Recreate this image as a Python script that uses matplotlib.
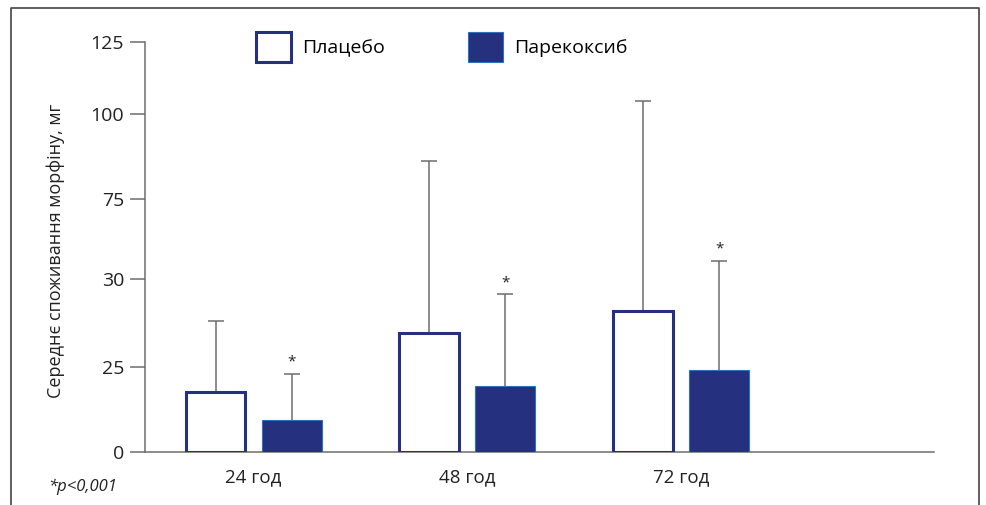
import matplotlib
matplotlib.use("Agg")
import matplotlib.pyplot as plt
from matplotlib.lines import Line2D
from matplotlib.patches import Patch
import numpy as np

plt.rcParams["font.family"] = ["Open Sans", "DejaVu Sans"]
plt.rcParams["font.weight"] = "medium"

# data
groups = ["24 год", "48 год", "72 год"]
placebo = [17.7, 35.1, 41.6]
placebo_err = [21.0, 51.0, 62.3]
parecoxib = [9.4, 19.6, 24.4]
parecoxib_err = [13.7, 27.1, 32.2]
series_names = ["Плацебо", "Парекоксиб"]
# the original axis is printed with "30" where 50 would be, and not quite evenly spaced
ytick_pos = [0, 25.1, 51.2, 74.9, 100, 121.3]
ytick_labels = ["0", "25", "30", "75", "100", "125"]
footnote = "*p<0,001"
ylabel = "Середнє споживання морфіну, мг"

navy = "#25307f"
edge_light = "#2a72c0"
grey = "#6e6e6e"
ink = "#222222"

fig = plt.figure(figsize=(9.87, 5.05), dpi=100)
ax = fig.add_axes([145 / 987, 53 / 505, 789 / 987, 410 / 505])

x = np.arange(len(groups))
off, w = 0.178, 0.28
ax.bar(x - off, placebo, w, facecolor="white", edgecolor=navy, linewidth=2.2, zorder=3)
ax.bar(x + off, parecoxib, w, facecolor=navy, edgecolor=edge_light, linewidth=0.8, zorder=3)
for pos, vals, errs in [(x - off, placebo, placebo_err), (x + off, parecoxib, parecoxib_err)]:
    _, caps, _ = ax.errorbar(pos, vals, yerr=[np.zeros(3), errs], fmt="none",
                             ecolor=grey, elinewidth=1.1, capsize=5.8, capthick=1.1, zorder=2)
    caps[0].set_visible(False)  # only the upper whisker has a cap
for xi, v, e in zip(x + off, parecoxib, parecoxib_err):
    ax.annotate("*", (xi, v + e), xytext=(0, 3), textcoords="offset points",
                ha="center", va="bottom", fontsize=11, color=ink)

ax.set_xlim(-0.508, 3.183)
ax.set_ylim(0, 121.3)
ax.set_yticks(ytick_pos, ytick_labels, fontsize=14, color=ink)
ax.set_xticks(x, groups, fontsize=13.5, color=ink)
ax.tick_params(axis="y", length=11, width=1.1, color=grey, pad=4)
ax.tick_params(axis="x", length=0, pad=12)
for s in ["top", "right"]:
    ax.spines[s].set_visible(False)
for s in ["left", "bottom"]:
    ax.spines[s].set_color(grey)
    ax.spines[s].set_linewidth(1.1)

ax.set_ylabel(ylabel, fontsize=13, color=ink)
ax.yaxis.set_label_coords(-0.101, 0.49)

handles = [Patch(facecolor="white", edgecolor=navy, linewidth=2.2),
           Patch(facecolor=navy, edgecolor=edge_light, linewidth=0.8)]
fig.legend(handles, series_names, loc="upper left", bbox_to_anchor=(256 / 987, 1 - 32 / 505),
           ncol=2, frameon=False, fontsize=14, handlelength=1.8, handleheight=2.0,
           handletextpad=0.55, columnspacing=4.3, borderpad=0, borderaxespad=0)

fig.text(48 / 987, 1 - 487 / 505, footnote, fontsize=12, style="italic", color=ink, va="center")

# frame round the figure (open at the bottom)
fx0, fx1, fy = 11 / 987, 979 / 987, 1 - 8 / 505
fig.add_artist(Line2D([fx0, fx0, fx1, fx1], [0, fy, fy, 0], transform=fig.transFigure,
                      color="#444444", linewidth=1.2))

fig.savefig("out.png", dpi=100)
